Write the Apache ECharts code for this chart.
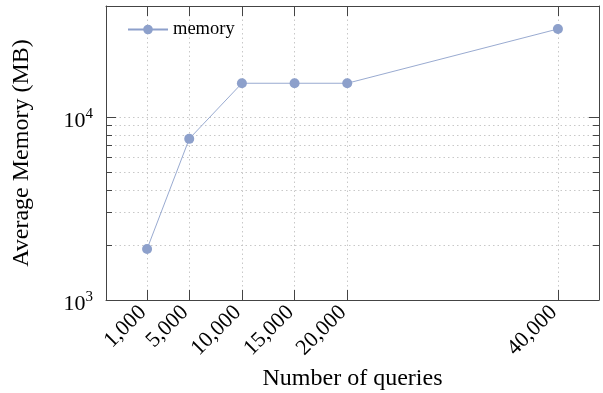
<!DOCTYPE html>
<html>
<head>
<meta charset="utf-8">
<script src="https://cdn.jsdelivr.net/npm/echarts@6/dist/echarts.min.js"></script>
<style>
html,body{margin:0;padding:0;background:#fff;}
#chart{width:603px;height:393px;}
</style>
</head>
<body>
<div id="chart"></div>
<script>
// Data
const queries = [1000, 5000, 10000, 15000, 20000, 40000];
const memoryMB = [1900, 7600, 15300, 15300, 15300, 30300];
const xTicks = [1000, 5000, 10000, 15000, 20000, 40000];
const yMajorTicks = [1000, 10000];
const yMinorTicks = [2000, 3000, 4000, 5000, 6000, 7000, 8000, 9000];
const seriesName = 'memory';

const FONT = "'Liberation Serif', 'Times New Roman', serif";
const AXIS_COLOR = '#444';
const GRID_COLOR = '#c8c8c8';
const SERIES_COLOR = '#8da0cb';
const X_MIN = -2900, X_MAX = 43900;
const Y_MIN = 1000, Y_MAX = 40460;

function fmtComma(v){ return String(v).replace(/\B(?=(\d{3})+(?!\d))/g, ','); }

const gridSplit = {show:true, lineStyle:{color:GRID_COLOR, type:[1.5,3], width:1}};
const noSplit = {show:false};

function yAxisBase(pos, ticks, len, labels, split, line){
  return {
    type:'log', logBase:10, min:Y_MIN, max:Y_MAX, position:pos,
    axisLine:{show:line, onZero:false, lineStyle:{color:AXIS_COLOR, width:1}},
    axisTick:{show:true, inside:true, length:len, customValues:ticks, lineStyle:{color:AXIS_COLOR, width:1}},
    axisLabel: labels ? {
      show:true, customValues:ticks, margin:13, fontFamily:FONT, color:'#000',
      formatter: function(v){ const e = Math.round(Math.log10(v)); return '{b|10}{s|' + e + '}'; },
      rich:{ b:{fontSize:22, fontFamily:FONT, color:'#000', padding:[8,0,0,0]}, s:{fontSize:15, fontFamily:FONT, color:'#000', padding:[0,0,6,0]} }
    } : {show:false},
    splitLine: split ? gridSplit : noSplit,
    minorTick:{show:false}
  };
}

const option = {
  animation:false,
  backgroundColor:'#fff',
  grid:{left:106, right:4, top:6, bottom:93, containLabel:false, outerBoundsMode:'none'},
  legend:{
    show:true, data:[seriesName], left:127, top:20, padding:0, itemWidth:40, itemHeight:12, itemGap:5,
    textStyle:{fontFamily:FONT, fontSize:18.5, color:'#000', padding:[0,0,0,0]}
  },
  xAxis:[
    {
      type:'value', min:X_MIN, max:X_MAX, position:'bottom',
      name:'Number of queries', nameLocation:'middle', nameGap:59,
      nameTextStyle:{fontFamily:FONT, fontSize:24, color:'#000'},
      axisLine:{show:true, onZero:false, lineStyle:{color:AXIS_COLOR, width:1}},
      axisTick:{show:true, inside:true, length:10, customValues:xTicks, lineStyle:{color:AXIS_COLOR, width:1}},
      axisLabel:{show:true, customValues:xTicks, rotate:45, margin:5, padding:[0,6,0,0], fontFamily:FONT, fontSize:22, color:'#000', formatter:fmtComma},
      splitLine:gridSplit
    },
    {
      type:'value', min:X_MIN, max:X_MAX, position:'top',
      axisLine:{show:true, onZero:false, lineStyle:{color:AXIS_COLOR, width:1}},
      axisTick:{show:true, inside:true, length:10, customValues:xTicks, lineStyle:{color:AXIS_COLOR, width:1}},
      axisLabel:{show:false},
      splitLine:noSplit
    }
  ],
  yAxis:[
    Object.assign(yAxisBase('left', yMajorTicks, 10, true, true, true), {
      name:'Average Memory (MB)', nameLocation:'middle', nameGap:72,
      nameTextStyle:{fontFamily:FONT, fontSize:24, color:'#000'}
    }),
    yAxisBase('left', yMinorTicks, 6, false, true, false),
    yAxisBase('right', yMajorTicks, 10, false, false, true),
    yAxisBase('right', yMinorTicks, 6, false, false, false)
  ],
  series:[{
    name:seriesName, type:'line', xAxisIndex:0, yAxisIndex:0,
    data: queries.map((q,i)=>[q, memoryMB[i]]),
    symbol:'circle', symbolSize:10, showSymbol:true,
    itemStyle:{color:SERIES_COLOR},
    lineStyle:{color:SERIES_COLOR, width:0.9},
    emphasis:{disabled:true}
  }]
};

const chart = echarts.init(document.getElementById('chart'), null, {renderer:'canvas'});
chart.setOption(option);
</script>
</body>
</html>
